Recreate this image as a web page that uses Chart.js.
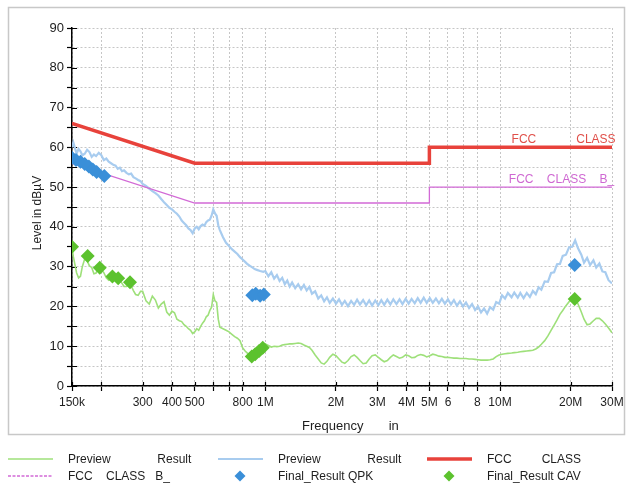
<!DOCTYPE html>
<html>
<head>
<meta charset="utf-8">
<script src="https://cdn.jsdelivr.net/npm/chart.js@4.4.0/dist/chart.umd.min.js"></script>
<style>
  html, body { margin: 0; padding: 0; background: #fff; }
  #c { display: block; width: 628px; height: 487px; }
</style>
</head>
<body>
<canvas id="c" width="628" height="487"></canvas>
<script>
// Scan frequencies (MHz) shared by both preview traces
const scanFreqMHz = [
  0.150, 0.152, 0.155, 0.157, 0.160, 0.163, 0.166, 0.170, 0.174, 0.178,
  0.182, 0.186, 0.190, 0.195, 0.200, 0.205, 0.210, 0.215, 0.220, 0.225,
  0.230, 0.235, 0.240, 0.245, 0.250, 0.256, 0.262, 0.268, 0.274, 0.280,
  0.287, 0.294, 0.300, 0.310, 0.320, 0.330, 0.340, 0.350, 0.360, 0.370,
  0.380, 0.390, 0.400, 0.410, 0.420, 0.430, 0.440, 0.450, 0.460, 0.470,
  0.480, 0.490, 0.500, 0.510, 0.520, 0.530, 0.540, 0.550, 0.560, 0.570,
  0.580, 0.590, 0.600, 0.610, 0.620, 0.630, 0.640, 0.660, 0.680, 0.700,
  0.720, 0.740, 0.760, 0.780, 0.800, 0.820, 0.840, 0.860, 0.880, 0.900,
  0.920, 0.950, 0.980,
  1.00, 1.03, 1.06, 1.09, 1.12, 1.15, 1.18, 1.21, 1.24, 1.27,
  1.30, 1.34, 1.38, 1.42, 1.46, 1.50, 1.54, 1.58, 1.63, 1.68,
  1.73, 1.78, 1.83, 1.88, 1.94, 2.00, 2.06, 2.12, 2.18, 2.25,
  2.32, 2.39, 2.46, 2.53, 2.61, 2.69, 2.77, 2.85, 2.94, 3.03,
  3.12, 3.21, 3.31, 3.41, 3.51, 3.62, 3.73, 3.84, 3.96, 4.08,
  4.20, 4.33, 4.46, 4.59, 4.73, 4.87, 5.02, 5.17, 5.33, 5.49,
  5.65, 5.82, 6.00, 6.18, 6.36, 6.55, 6.75, 6.95, 7.16, 7.38,
  7.60, 7.83, 8.06, 8.30, 8.55, 8.81, 9.07, 9.35, 9.63, 9.91,
  10.2, 10.5, 10.8, 11.2, 11.5, 11.9, 12.2, 12.6, 13.0, 13.4,
  13.8, 14.2, 14.6, 15.0, 15.5, 16.0, 16.5, 17.0, 17.5, 18.0,
  18.5, 19.1, 19.7, 20.3, 20.9, 21.5, 22.2, 22.8, 23.5, 24.2,
  25.0, 25.7, 26.5, 27.3, 28.1, 29.0, 30.0
];

// Preview scan, average detector (dBµV)
const previewAvgLevel = [
  34.8, 32.5, 30.0, 28.4, 27.2, 27.6, 30.0, 32.0, 31.5, 30.2,
  29.8, 28.2, 28.4, 30.0, 29.2, 28.5, 27.2, 26.6, 27.0, 27.4,
  27.0, 26.0, 26.6, 25.8, 25.0, 25.0, 25.6, 25.2, 24.0, 23.0,
  22.8, 23.8, 23.8, 21.4, 20.6, 22.6, 21.6, 19.6, 20.6, 21.2,
  18.6, 17.8, 18.8, 18.4, 16.8, 16.4, 16.2, 15.4, 15.0, 14.4,
  14.0, 13.2, 13.6, 14.4, 14.0, 15.0, 15.8, 16.4, 17.4, 17.8,
  19.0, 19.8, 23.0, 21.4, 21.0, 16.8, 14.8, 14.4, 14.0, 13.6,
  13.0, 12.4, 12.0, 11.4, 9.6, 8.8, 8.2, 7.4, 7.6, 8.0,
  8.8, 9.6, 10.2,
  10.6, 10.2, 9.8, 10.0, 9.9, 10.0, 10.3, 10.4, 10.5, 10.6,
  10.6, 10.7, 10.8, 10.7, 10.3, 10.0, 9.7, 9.0, 7.8, 6.8,
  5.8, 5.5, 6.2, 7.2, 8.0, 7.6, 6.8, 6.0, 5.7, 6.4,
  7.4, 7.8, 7.2, 6.4, 5.6, 5.8, 6.8, 7.6, 7.8, 7.2,
  6.6, 6.1, 6.4, 7.2, 7.8, 7.4, 7.0, 7.2, 7.8, 7.6,
  7.1, 7.2, 7.7, 7.9, 7.7, 7.3, 7.6, 8.0, 7.8, 7.5,
  7.4, 7.2, 7.2, 7.1, 7.0, 7.0, 6.9, 6.9, 6.9, 6.8,
  6.8, 6.7, 6.6, 6.5, 6.5, 6.5, 6.6, 6.8, 7.4, 7.8,
  8.0, 8.1, 8.2, 8.3, 8.4, 8.5, 8.6, 8.7, 8.8, 8.9,
  9.0, 9.3, 9.8, 10.5, 11.4, 12.6, 14.0, 15.3, 16.6, 18.0,
  19.0, 20.2, 21.2, 21.8, 22.0, 20.6, 18.6, 16.8, 15.4, 15.6,
  16.4, 17.0, 17.0, 16.4, 15.6, 14.6, 13.4
];

// Preview scan, peak detector (dBµV)
const previewPeakLevel = [
  60.0, 61.2, 59.5, 58.4, 59.6, 59.0, 58.0, 58.4, 59.4, 58.8,
  57.6, 58.2, 57.8, 58.6, 58.0, 56.8, 57.2, 56.4, 56.0, 55.6,
  55.4, 54.6, 54.9, 54.0, 54.2, 53.6, 53.2, 53.4, 52.5, 52.2,
  51.8, 51.5, 50.8, 50.3, 49.6, 49.0, 48.5, 47.9, 47.0, 46.2,
  45.5, 44.8, 44.4, 43.8, 43.3, 42.6, 41.6, 41.0, 40.4, 39.6,
  39.2, 38.4, 39.6, 40.0, 39.4, 40.2, 40.6, 40.3, 41.2, 41.6,
  41.8, 42.8, 44.4, 43.4, 42.8, 40.4, 39.2, 37.4, 36.0, 35.2,
  34.4, 33.8, 33.2, 32.4, 31.8, 31.2, 30.6, 30.2, 29.8, 29.4,
  29.2, 28.9, 28.7,
  28.9, 27.6, 28.6, 27.0, 27.9, 26.4, 27.2, 25.6, 26.5, 25.0,
  26.0, 24.6, 25.6, 24.3, 25.4, 24.0, 24.9, 23.2, 23.8, 22.0,
  22.8, 21.3, 22.3, 20.9, 22.0, 20.7, 21.8, 20.4, 21.4, 20.1,
  21.4, 20.4, 21.7, 20.5, 21.6, 20.3, 21.5, 20.2, 21.5, 20.3,
  21.6, 20.4, 21.7, 20.5, 21.8, 20.6, 21.8, 20.6, 21.9, 20.7,
  21.9, 20.8, 22.1, 20.9, 22.2, 20.9, 22.1, 20.9, 22.0, 20.8,
  21.9, 20.7, 21.8, 20.5, 21.6, 20.2, 21.3, 20.0, 21.0, 19.6,
  20.6, 19.1, 20.0, 18.5, 19.5, 18.2, 19.8, 19.2, 21.1, 20.7,
  22.8, 22.0, 23.4, 22.3, 23.5, 22.2, 23.4, 22.1, 23.4, 22.4,
  23.9, 23.1, 24.8, 24.2, 26.3, 26.2, 28.4, 28.6, 30.6, 30.7,
  32.7, 33.0, 34.9, 35.0, 36.6, 34.6, 33.0, 31.0, 32.2, 30.4,
  31.6, 29.8, 30.8, 28.8, 28.6, 26.6, 25.8
];

// Limit lines
const limitFreqMHz = [0.15, 0.5, 5, 5, 30];
const fccClassLimit = [66, 56, 56, 60, 60];
const fccClassBLimit = [56, 46, 46, 50, 50];

// Final measurements
const qpkFreqMHz = [0.150, 0.156, 0.163, 0.170, 0.177, 0.184, 0.191, 0.206, 0.88, 0.91, 0.95, 0.985, 20.8];
const qpkLevel   = [57.4, 56.8, 56.4, 55.8, 55.2, 54.4, 53.8, 52.8, 22.8, 23.2, 22.7, 23.0, 30.4];
const cavFreqMHz = [0.150, 0.175, 0.197, 0.223, 0.236, 0.265, 0.875, 0.905, 0.94, 0.975, 20.8];
const cavLevel   = [35.0, 32.7, 29.7, 27.5, 27.1, 26.1, 7.4, 8.0, 8.8, 9.6, 21.9];

// Frequency axis ticks and their labels
const freqTickMHz = [0.15, 0.2, 0.3, 0.4, 0.5, 0.6, 0.7, 0.8, 1, 2, 3, 4, 5, 6, 7, 8, 10, 20, 30];
const freqTickLabels = ['150k', '', '300', '400', '500', '', '', '800', '1M', '2M', '3M', '4M', '5M', '6', '', '8', '10M', '20M', '30M'];

// Text
const yAxisTitle = 'Level in dBµV';
const xAxisTitle = 'Frequency       in';
const limitTags = [
  { text: 'FCC            CLASS', freq: 11.2, level: 61.9, color: '#e0504a' },
  { text: 'FCC    CLASS    B_', freq: 10.9, level: 51.9, color: '#cf68d2' }
];

const FONT = '"Liberation Sans", Arial, Helvetica, sans-serif';
const toPoints = (xs, ys) => xs.map((x, i) => ({ x: x, y: ys[i] }));

const decorations = {
  id: 'decorations',
  beforeDraw(chart) {
    const ctx = chart.ctx;
    ctx.save();
    ctx.fillStyle = '#ffffff';
    ctx.fillRect(0, 0, chart.width, chart.height);
    ctx.strokeStyle = '#c8c8c8';
    ctx.lineWidth = 1.5;
    ctx.strokeRect(8.5, 7.5, 616, 427);
    ctx.restore();
  },
  beforeDatasetsDraw(chart) {
    // inner half of the axis tick marks
    const ctx = chart.ctx;
    const xs = chart.scales.x, ys = chart.scales.y;
    const area = chart.chartArea;
    ctx.save();
    ctx.strokeStyle = '#000';
    ctx.lineWidth = 1.2;
    ctx.beginPath();
    xs.ticks.forEach(t => {
      const px = Math.round(xs.getPixelForValue(t.value)) + 0.5;
      ctx.moveTo(px, area.bottom);
      ctx.lineTo(px, area.bottom - 4);
    });
    ys.ticks.forEach(t => {
      const py = Math.round(ys.getPixelForValue(t.value)) + 0.5;
      ctx.moveTo(area.left, py);
      ctx.lineTo(area.left + 5, py);
    });
    ctx.stroke();
    ctx.restore();
  },
  afterDraw(chart) {
    const ctx = chart.ctx;
    const xs = chart.scales.x, ys = chart.scales.y;
    const area = chart.chartArea;
    ctx.save();

    // axis titles
    ctx.fillStyle = '#1e1e1e';
    ctx.font = '12px ' + FONT;
    ctx.textAlign = 'center';
    ctx.textBaseline = 'middle';
    ctx.save();
    ctx.translate(38, (area.top + area.bottom) / 2 + 6);
    ctx.rotate(-Math.PI / 2);
    ctx.fillText(yAxisTitle, 0, 0);
    ctx.restore();
    ctx.font = '13px ' + FONT;
    ctx.textAlign = 'left';
    ctx.fillText(xAxisTitle, 302, 426);

    // limit line tags
    ctx.font = '12px ' + FONT;
    limitTags.forEach(tag => {
      ctx.fillStyle = tag.color;
      ctx.fillText(tag.text, xs.getPixelForValue(tag.freq), ys.getPixelForValue(tag.level));
    });

    // legend: three columns, two rows
    const colX = [8, 218, 427];
    const rowY = [459, 476];
    chart.data.datasets.forEach((ds, i) => {
      const x0 = colX[i % 3];
      const y0 = rowY[Math.floor(i / 3)];
      if (ds.showLine === false) {
        const cx = x0 + 22, r = 5.5;
        ctx.fillStyle = ds.backgroundColor;
        ctx.beginPath();
        ctx.moveTo(cx, y0 - r);
        ctx.lineTo(cx + r, y0);
        ctx.lineTo(cx, y0 + r);
        ctx.lineTo(cx - r, y0);
        ctx.closePath();
        ctx.fill();
      } else {
        ctx.strokeStyle = ds.borderColor;
        ctx.lineWidth = Math.min(ds.borderWidth, 3.5);
        ctx.setLineDash(ds.legendDash || []);
        ctx.beginPath();
        ctx.moveTo(x0, y0);
        ctx.lineTo(x0 + 45, y0);
        ctx.stroke();
        ctx.setLineDash([]);
      }
      ctx.fillStyle = '#1e1e1e';
      ctx.font = '12px ' + FONT;
      ctx.textAlign = 'left';
      ctx.textBaseline = 'middle';
      ctx.fillText(ds.label, x0 + 60, y0 + 1);
    });
    ctx.restore();
  }
};

const gridOpts = { color: '#c6c6c6', lineWidth: 1, tickColor: '#000', tickLength: 5, tickWidth: 1.2 };
const borderOpts = { color: '#000', width: 1.5, dash: [2, 2] };
const tickFont = { family: FONT, size: 12 };

new Chart(document.getElementById('c'), {
  type: 'line',
  data: {
    datasets: [
      { label: 'Preview              Result', data: toPoints(scanFreqMHz, previewAvgLevel),
        borderColor: '#9ee07a', borderWidth: 1.6, pointRadius: 0, tension: 0, order: 6 },
      { label: 'Preview              Result', data: toPoints(scanFreqMHz, previewPeakLevel),
        borderColor: '#a8ccef', borderWidth: 2.2, pointRadius: 0, tension: 0, order: 5 },
      { label: 'FCC         CLASS', data: toPoints(limitFreqMHz, fccClassLimit),
        borderColor: '#e8423b', borderWidth: 3.5, pointRadius: 0, tension: 0, order: 3 },
      { label: 'FCC    CLASS   B_', data: toPoints(limitFreqMHz, fccClassBLimit),
        borderColor: '#d26ad6', borderWidth: 1.3, pointRadius: 0, tension: 0, order: 4, legendDash: [3, 1.5] },
      { label: 'Final_Result QPK', data: toPoints(qpkFreqMHz, qpkLevel), showLine: false,
        pointStyle: 'rectRot', pointRadius: 7, backgroundColor: '#3a8fd8', borderWidth: 0, order: 2 },
      { label: 'Final_Result CAV', data: toPoints(cavFreqMHz, cavLevel), showLine: false,
        pointStyle: 'rectRot', pointRadius: 7, backgroundColor: '#5cc22e', borderWidth: 0, order: 1 }
    ]
  },
  options: {
    responsive: false,
    animation: false,
    events: [],
    layout: { padding: { left: 0, top: 28, right: 16, bottom: 41 } },
    plugins: { legend: { display: false }, tooltip: { enabled: false } },
    scales: {
      x: {
        type: 'logarithmic', min: 0.15, max: 30,
        afterBuildTicks: s => { s.ticks = freqTickMHz.map(v => ({ value: v })); },
        afterFit: s => { s.height = 60; },
        ticks: { autoSkip: false, maxRotation: 0, minRotation: 0, padding: 4, color: '#1e1e1e', font: tickFont,
                 callback: (v, i) => freqTickLabels[i] },
        grid: gridOpts, border: borderOpts
      },
      y: {
        min: 0, max: 90,
        afterFit: s => { s.width = 72; },
        ticks: { stepSize: 5, autoSkip: false, padding: 3, color: '#1e1e1e', font: { family: FONT, size: 13 },
                 callback: v => (v % 10 === 0 ? String(v) : '') },
        grid: gridOpts, border: borderOpts
      }
    }
  },
  plugins: [decorations]
});
</script>
</body>
</html>
